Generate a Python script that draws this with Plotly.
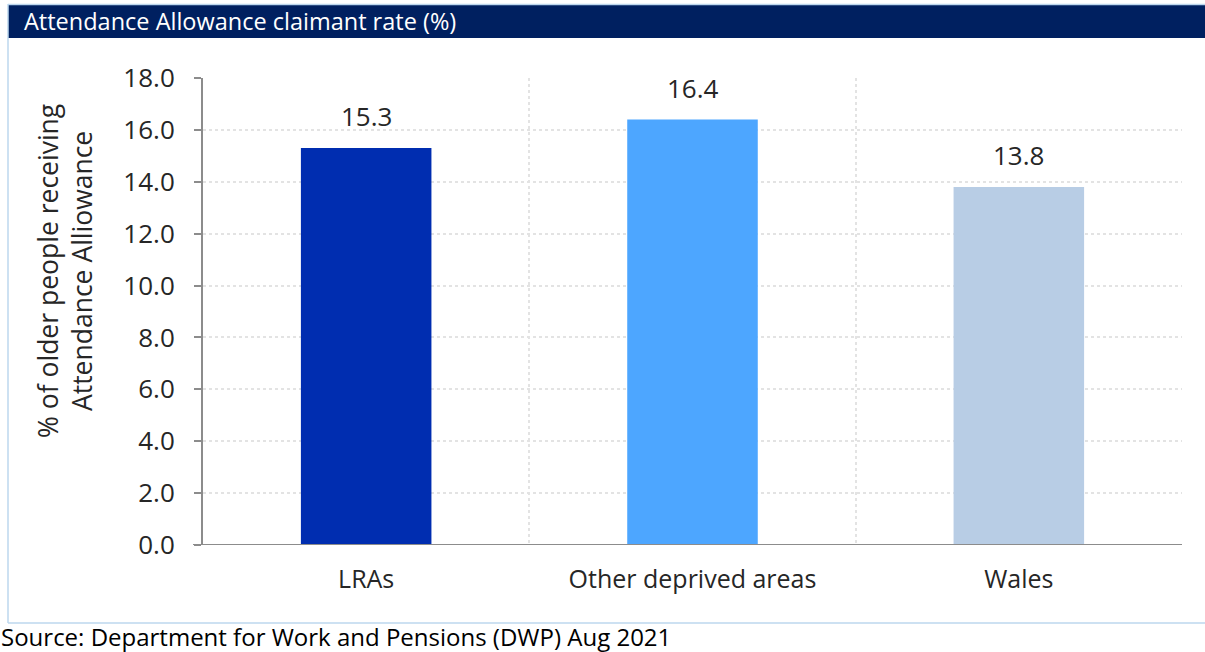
import plotly.graph_objects as go

categories = ["LRAs", "Other deprived areas", "Wales"]
values = [15.3, 16.4, 13.8]
bar_colors = ["#002DB0", "#4DA6FF", "#B8CDE5"]
y_ticks = [0, 2, 4, 6, 8, 10, 12, 14, 16, 18]
title_text = "Attendance Allowance claimant rate (%)"
source_text = "Source: Department for Work and Pensions (DWP) Aug 2021"
y_title = "% of older people receiving<br>Attendance Alliowance"

W, H = 1205, 652
L, R, T, B = 203, 1182, 78, 545
FONT = "Open Sans"


def px(x):
    return (x - L) / (R - L)


def py(y):
    return (B - y) / (B - T)


xs = list(range(len(categories)))

fig = go.Figure()
fig.add_trace(go.Bar(
    x=xs, y=values, width=0.4,
    marker=dict(color=bar_colors, line=dict(width=0)),
    hoverinfo="skip",
))

annotations = []
for x, v in zip(xs, values):
    annotations.append(dict(
        x=x, y=v, xref="x", yref="y", text=f"{v:.1f}", showarrow=False,
        yanchor="bottom", yshift=12, font=dict(family=FONT, size=26, color="#262626"),
    ))

annotations.append(dict(
    x=px(22), y=py(21), xref="paper", yref="paper", text=title_text, showarrow=False,
    xanchor="left", yanchor="middle", font=dict(family=FONT, size=23.5, color="white"),
))
annotations.append(dict(
    x=px(-1), y=py(636), xref="paper", yref="paper", text=source_text, showarrow=False,
    xanchor="left", yanchor="middle", font=dict(family=FONT, size=24, color="#000000"),
))
annotations.append(dict(
    x=px(65), y=py(271), xref="paper", yref="paper", text=y_title, showarrow=False,
    xanchor="center", yanchor="middle", textangle=-90,
    font=dict(family=FONT, size=26.5, color="#262626"),
))

border = "#BDD7EE"
shapes = [
    dict(type="rect", xref="paper", yref="paper", x0=px(8), x1=px(1205), y0=py(38), y1=py(5),
         fillcolor="#002060", line=dict(width=0), layer="above"),
    dict(type="line", xref="paper", yref="paper", x0=px(8), x1=px(1205), y0=py(4.5), y1=py(4.5),
         line=dict(color=border, width=1.5)),
    dict(type="line", xref="paper", yref="paper", x0=px(8), x1=px(8), y0=py(4), y1=py(623),
         line=dict(color=border, width=1.5)),
    dict(type="line", xref="paper", yref="paper", x0=px(8), x1=px(1205), y0=py(623), y1=py(623),
         line=dict(color=border, width=1.5)),
]

fig.update_layout(
    width=W, height=H,
    margin=dict(l=L, r=W - R, t=T, b=H - B),
    paper_bgcolor="white", plot_bgcolor="white",
    showlegend=False,
    annotations=annotations,
    shapes=shapes,
    font=dict(family=FONT, color="#262626"),
    xaxis=dict(
        range=[-0.5, 2.5], tickvals=xs, ticktext=categories,
        showgrid=False, zeroline=False,
        showline=False, ticks="",
        tickfont=dict(family=FONT, size=25, color="#262626"),
        ticklabelstandoff=17,
        minor=dict(tickvals=[0.5, 1.5, 2.5], showgrid=True, gridcolor="#E3E3E3",
                   griddash="dot", gridwidth=1.5),
    ),
    yaxis=dict(
        range=[0, 18], tickvals=y_ticks, ticktext=[f"{t:.1f}" for t in y_ticks],
        showgrid=True, gridcolor="#E3E3E3", griddash="dot", gridwidth=1.5,
        zeroline=False,
        showline=True, linecolor="#8C8C8C", linewidth=2,
        ticks="outside", ticklen=7, tickcolor="#8C8C8C", tickwidth=2,
        tickfont=dict(family=FONT, size=26, color="#262626"),
        ticklabelstandoff=14,
    ),
)

# x axis baseline extending slightly left of y axis
fig.add_shape(type="line", xref="paper", yref="y", x0=px(193), x1=1, y0=0, y1=0,
              line=dict(color="#8C8C8C", width=2), layer="above")

fig.write_html("out.html")
